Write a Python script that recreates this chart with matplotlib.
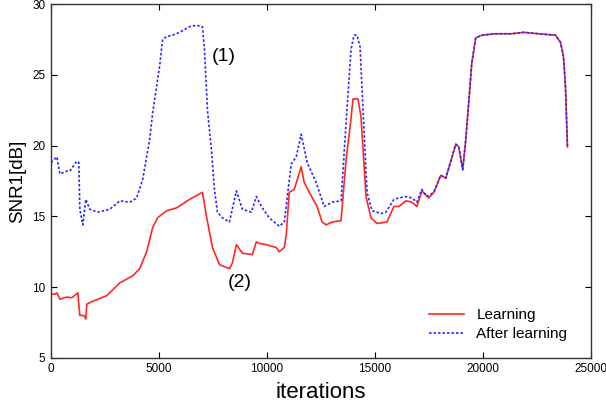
import matplotlib
matplotlib.use("Agg")
import matplotlib.pyplot as plt

plt.rcParams['font.family'] = ['Liberation Sans', 'DejaVu Sans']

# After learning (blue dotted)
after_iter = [0, 277, 416, 739, 877, 1200, 1293, 1339, 1477, 1616, 1801, 2170, 2724, 3186,
              3648, 3971, 4248, 4433, 4571, 4710, 5033, 5171, 5356, 5633, 5956, 6418, 6741,
              7018, 7110, 7249, 7434, 7572, 7711, 7942, 8265, 8588, 8865, 9280, 9511, 9788,
              10111, 10573, 10804, 11127, 11358, 11589, 11866, 12281, 12651, 13020, 13435,
              13666, 13897, 14036, 14174, 14313, 14406, 14637, 14867, 15282, 15513, 15882,
              16113, 16436, 16714, 16944, 17175, 17406, 17729, 18052, 18283, 18514, 18745,
              18884, 19068, 19207, 19391, 19484, 19668, 19945, 20592, 21330, 21885, 22577,
              23362, 23593, 23732, 23824, 23917]
after_snr = [18.8, 19.2, 18.0, 18.2, 18.2, 18.9, 18.8, 15.5, 14.4, 16.2, 15.5, 15.3, 15.5, 16.1,
             16.0, 16.3, 17.6, 19.2, 20.4, 22.3, 25.6, 27.5, 27.7, 27.8, 28.0, 28.4, 28.5,
             28.4, 26.8, 22.5, 19.7, 16.9, 15.3, 14.9, 14.6, 16.8, 15.5, 15.3, 16.4, 15.6,
             14.9, 14.3, 14.6, 18.7, 19.2, 20.8, 18.8, 17.4, 15.7, 16.0, 16.1,
             21.6, 26.8, 27.8, 27.8, 27.0, 24.0, 16.7, 15.4, 15.2, 15.3, 16.2,
             16.3, 16.4, 16.3, 16.0, 16.9, 16.4, 16.7, 17.9, 17.7, 18.9, 20.1,
             19.9, 18.3, 20.4, 23.9, 25.8, 27.6, 27.8, 27.9, 27.9, 28.0, 27.9,
             27.8, 27.3, 26.3, 24.2, 19.9]

# Learning (red solid)
learn_iter = [0, 185, 277, 416, 739, 970, 1247, 1339, 1524, 1616, 1662, 1939, 2586, 3186,
              3786, 4109, 4433, 4710, 4940, 5356, 5818, 6418, 7018, 7203, 7480, 7803, 8265,
              8403, 8588, 8865, 9326, 9511, 9650, 9973, 10434, 10573, 10804, 10896, 11035,
              11266, 11589, 11727, 11958, 12327, 12558, 12743, 13020, 13435, 13666, 13851,
              13990, 14220, 14359, 14590, 14821, 15098, 15559, 15882, 16113, 16436, 16714,
              16944, 17175, 17498, 17729, 18052, 18283, 18514, 18745, 18884, 19068, 19207,
              19391, 19484, 19668, 19945, 20592, 21330, 21885, 22577, 23362, 23593, 23732,
              23824, 23917]
learn_snr = [9.5, 9.5, 9.6, 9.15, 9.3, 9.25, 9.6, 8.0, 8.0, 7.75, 8.8, 9.0, 9.4, 10.3,
             10.8, 11.3, 12.5, 14.2, 14.9, 15.4, 15.6, 16.2, 16.7, 15.0, 12.8, 11.6, 11.3,
             11.7, 13.0, 12.4, 12.3, 13.2, 13.1, 13.0, 12.8, 12.5, 12.8, 13.7, 16.7,
             16.9, 18.5, 17.4, 16.7, 15.7, 14.6, 14.4, 14.6, 14.7, 19.0, 21.3,
             23.3, 23.3, 22.0, 16.4, 14.9, 14.5, 14.6, 15.7, 15.7, 16.1, 16.0,
             15.7, 16.8, 16.3, 16.7, 17.9, 17.7, 18.9, 20.1, 19.9, 18.3, 20.4,
             23.9, 25.8, 27.6, 27.8, 27.9, 27.9, 28.0, 27.9, 27.8, 27.3, 26.3,
             24.2, 19.9]

x_ticks = [0, 5000, 10000, 15000, 20000, 25000]
y_ticks = [5, 10, 15, 20, 25, 30]

fig = plt.figure(figsize=(6.06, 4.04), dpi=100)
ax = fig.add_axes([0.084, 0.114, 0.891, 0.876])

ax.plot(learn_iter, learn_snr, color='#ff2828', lw=1.2, label='Learning')
ax.plot(after_iter, after_snr, color='#2828ff', lw=1.2, linestyle=(0, (1.5, 1.2)),
        label='After learning')

ax.set_xlim(0, 25000)
ax.set_ylim(5, 30)
ax.set_xticks(x_ticks)
ax.set_yticks(y_ticks)
ax.tick_params(direction='in', top=True, right=True, labelsize=8.5, length=4, pad=4)
for s in ax.spines.values():
    s.set_color('#333333')
    s.set_linewidth(1.0)

ax.set_xlabel('iterations', fontsize=16, labelpad=5)
ax.set_ylabel('SNR1[dB]', fontsize=13.5, labelpad=4)

ax.text(7990, 26.3, '(1)', fontsize=14, ha='center', va='center')
ax.text(8730, 10.35, '(2)', fontsize=14, ha='center', va='center')

ax.legend(loc='lower right', frameon=False, fontsize=11, handlelength=2.3,
          labelspacing=0.35, bbox_to_anchor=(0.982, 0.008))

fig.savefig('out.png', dpi=100)
